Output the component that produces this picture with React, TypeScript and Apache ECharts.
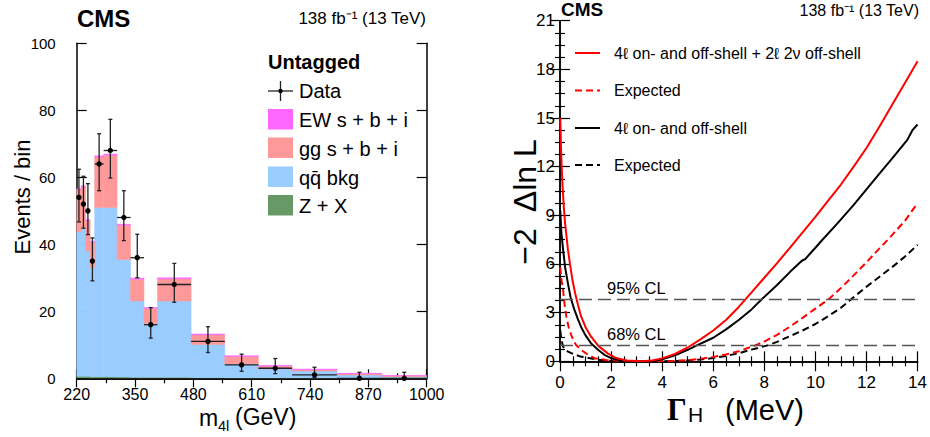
import React, { useEffect, useRef } from 'react';
import * as echarts from 'echarts';

// ---------------- Left panel: m4l distribution (Untagged) ----------------
const binEdges = [220, 230, 240, 250, 260, 280, 310, 340, 370, 400, 475, 550, 625, 700, 800, 900, 1000];
const zxValues = [0.6, 0.6, 0.6, 0.5, 0.5, 0.5, 0.4, 0.3, 0.3, 0.3, 0.2, 0.1, 0.1, 0.1, 0.05, 0.05];
const qqValues = [43.2, 44.2, 37.4, 32.5, 50.5, 50.5, 35.1, 22.8, 16.1, 22.8, 9.9, 4.2, 2.7, 2.1, 0.95, 0.45];
const ggValues = [12.5, 12.4, 9.1, 7.6, 15.1, 15.6, 10.2, 6.5, 4.5, 6.6, 2.9, 2.2, 0.85, 0.4, 0.42, 0.27];
const ewValues = [0.25, 0.25, 0.25, 0.25, 0.3, 0.3, 0.3, 0.3, 0.25, 0.3, 0.25, 0.25, 0.2, 0.15, 0.1, 0.05];
const dataCounts = [54, 52, 50, 35, 64, 68, 48, 36, 16, 28, 11, 4, 3, 1, 0, 0];
const dataErrUp = [8.4, 8.3, 8.1, 6.9, 9.0, 9.3, 8.0, 7.0, 5.1, 6.3, 4.4, 3.2, 2.9, 2.3, 1.8, 1.8];
const dataErrDown = [7.3, 7.2, 7.1, 5.9, 8.0, 8.2, 6.9, 6.0, 4.0, 5.3, 3.3, 1.9, 1.6, 0.8, 0, 0];

// ---------------- Right panel: -2 Delta lnL vs Gamma_H ----------------
const obsCombined = [
  [0.01, 15.0], [0.05, 12.6], [0.1, 10.8], [0.15, 9.5], [0.2, 8.5], [0.31, 6.9], [0.4, 5.9], [0.5, 4.9],
  [0.6, 4.15], [0.7, 3.5], [0.83, 2.75], [1.0, 2.1], [1.22, 1.52], [1.5, 0.95], [1.87, 0.49], [2.2, 0.2],
  [2.6, 0.05], [3.2, 0.0], [3.6, 0.05], [4.0, 0.18], [4.5, 0.45], [5.0, 0.85], [5.5, 1.35], [6.0, 1.9],
  [6.5, 2.55], [7.0, 3.35], [7.5, 4.25], [8.0, 5.15], [8.5, 6.05], [9.0, 7.0], [9.5, 7.95], [10.0, 8.9],
  [10.5, 9.9], [11.0, 10.9], [11.5, 12.0], [12.0, 13.15], [12.5, 14.45], [13.0, 15.8], [13.5, 17.15], [14.0, 18.5],
];
const expCombined = [
  [0.01, 5.8], [0.06, 5.0], [0.12, 4.4], [0.18, 3.5], [0.25, 2.75], [0.34, 2.1], [0.44, 1.62], [0.53, 1.28],
  [0.63, 1.0], [0.83, 0.7], [1.1, 0.4], [1.35, 0.19], [1.8, 0.08], [2.5, 0.02], [3.2, 0.0], [4.0, 0.0],
  [4.5, 0.02], [5.0, 0.07], [5.5, 0.15], [6.0, 0.27], [6.5, 0.42], [7.0, 0.62], [7.65, 0.98], [8.0, 1.22],
  [8.5, 1.63], [9.0, 2.13], [9.5, 2.68], [10.0, 3.25], [10.53, 3.84], [11.0, 4.52], [11.5, 5.3], [12.0, 6.1],
  [12.5, 6.95], [12.84, 7.5], [13.5, 8.65], [14.0, 9.75],
];
const obs4l = [
  [0.01, 9.3], [0.05, 8.0], [0.12, 6.9], [0.2, 5.8], [0.31, 4.8], [0.42, 3.9], [0.57, 3.15], [0.7, 2.6],
  [0.83, 2.1], [1.0, 1.6], [1.22, 1.1], [1.5, 0.7], [1.74, 0.4], [2.0, 0.2], [2.26, 0.08], [2.8, 0.01],
  [3.3, 0.0], [3.7, 0.04], [4.0, 0.12], [4.5, 0.37], [5.0, 0.71], [5.38, 1.0], [6.0, 1.45], [6.49, 1.95],
  [7.0, 2.55], [7.5, 3.2], [7.91, 3.84], [8.5, 4.7], [9.0, 5.5], [9.47, 6.2], [9.6, 6.3], [10.0, 7.0],
  [10.25, 7.45], [10.89, 8.55], [11.5, 9.65], [12.0, 10.6], [12.5, 11.55], [13.0, 12.5], [13.6, 13.65],
  [13.8, 14.25], [14.0, 14.6],
];
const exp4l = [
  [0.01, 1.9], [0.05, 1.4], [0.12, 0.9], [0.2, 0.75], [0.31, 0.6], [0.52, 0.45], [0.8, 0.3], [1.17, 0.19],
  [1.5, 0.1], [1.85, 0.04], [2.5, 0.01], [3.2, 0.0], [4.0, 0.0], [5.0, 0.05], [5.5, 0.11], [6.0, 0.2],
  [6.5, 0.33], [7.0, 0.5], [7.5, 0.72], [8.17, 1.0], [8.5, 1.2], [9.0, 1.55], [9.5, 1.9], [10.0, 2.3],
  [10.5, 2.78], [11.0, 3.3], [11.41, 3.84], [12.0, 4.6], [12.5, 5.2], [13.0, 5.8], [13.5, 6.45], [14.0, 7.18],
];
const clLevels = [3.84, 1.0];
const clLabels = ['95% CL', '68% CL'];

const FONT = 'Liberation Sans, Arial, Helvetica, sans-serif';
const SERIF = 'Liberation Serif, DejaVu Serif, serif';

const COLORS = {
  ew: '#ff66ff',
  gg: '#ff9999',
  qq: '#99ccff',
  zx: '#669966',
};

function buildLayer(values: number[], below: number[][]) {
  return values.map((v, i) => {
    const base = below.reduce((s, arr) => s + arr[i], 0);
    return [binEdges[i], binEdges[i + 1], base, base + v];
  });
}

const stackRender = (color: string) => (params: any, api: any) => {
  const p0 = api.coord([api.value(0), api.value(2)]);
  const p1 = api.coord([api.value(1), api.value(3)]);
  return {
    type: 'rect',
    shape: { x: p0[0], y: p1[1], width: p1[0] - p0[0], height: p0[1] - p1[1] },
    style: { fill: color, stroke: color, lineWidth: 0.5 },
  };
};

const errRender = (params: any, api: any) => {
  const xc = api.value(0);
  const x0 = api.value(1);
  const x1 = api.value(2);
  const y = api.value(3);
  const lo = api.value(4);
  const hi = api.value(5);
  const c = api.coord([xc, y]);
  const l = api.coord([x0, y]);
  const r = api.coord([x1, y]);
  const t = api.coord([xc, hi]);
  const b = api.coord([xc, lo]);
  const st = { stroke: '#222', lineWidth: 1.3 };
  const children: any[] = [
    { type: 'line', shape: { x1: l[0], y1: c[1], x2: r[0], y2: c[1] }, style: st },
    { type: 'line', shape: { x1: c[0], y1: t[1], x2: c[0], y2: b[1] }, style: st },
    { type: 'line', shape: { x1: c[0] - 2, y1: t[1], x2: c[0] + 2, y2: t[1] }, style: st },
    { type: 'circle', shape: { cx: c[0], cy: c[1], r: 2.7 }, style: { fill: '#000' } },
  ];
  if (hi - y > 0 && y - lo > 0) {
    children.push({ type: 'line', shape: { x1: c[0] - 2, y1: b[1], x2: c[0] + 2, y2: b[1] }, style: st });
  }
  return { type: 'group', children };
};

function buildOption() {
  const zxLayer = buildLayer(zxValues, []);
  const qqLayer = buildLayer(qqValues, [zxValues]);
  const ggLayer = buildLayer(ggValues, [zxValues, qqValues]);
  const ewLayer = buildLayer(ewValues, [zxValues, qqValues, ggValues]);
  const dataPts = dataCounts.map((n, i) => [
    (binEdges[i] + binEdges[i + 1]) / 2,
    binEdges[i],
    binEdges[i + 1],
    n,
    n - dataErrDown[i],
    n + dataErrUp[i],
  ]);

  const axisLine = { show: true, lineStyle: { color: '#000', width: 1.5 } };
  const tickStyle = { color: '#000', width: 1.2 };
  const lbl = { color: '#000', fontFamily: FONT, formatter: (v: number) => String(v) };

  const xLeftBase = {
    type: 'value', gridIndex: 0, min: 220, max: 1000, interval: 130,
    axisLine, splitLine: { show: false },
    axisTick: { inside: true, length: 9, lineStyle: tickStyle },
    minorTick: { show: true, splitNumber: 2, length: 5, lineStyle: tickStyle },
  };
  const yLeftBase = {
    type: 'value', gridIndex: 0, min: 0, max: 100, interval: 20,
    axisLine, splitLine: { show: false },
    axisTick: { inside: true, length: 10, lineStyle: tickStyle },
  };
  const xRightBase = {
    type: 'value', gridIndex: 1, min: 0, max: 14, interval: 2,
    axisLine, splitLine: { show: false },
    axisTick: { inside: true, length: 10, lineStyle: tickStyle },
    minorTick: { show: true, splitNumber: 4, length: 5, lineStyle: tickStyle },
  };
  const yRightBase = {
    type: 'value', gridIndex: 1, min: 0, max: 21, interval: 3,
    axisLine, splitLine: { show: false },
    axisTick: { inside: true, length: 10, lineStyle: tickStyle },
    minorTick: { show: true, splitNumber: 4, length: 5, lineStyle: tickStyle },
  };

  const legendBoxes = [
    { text: 'EW s + b + i', color: COLORS.ew, y: 109 },
    { text: 'gg s + b + i', color: COLORS.gg, y: 137.5 },
    { text: 'q\u0071\u0304 bkg', color: COLORS.qq, y: 166.5 },
    { text: 'Z + X', color: COLORS.zx, y: 195 },
  ];
  const rightLegend = [
    { text: '4\u2113 on- and off-shell + 2\u2113 2\u03bd off-shell', color: '#ff0000', dashed: false, y: 53 },
    { text: 'Expected', color: '#ff0000', dashed: true, y: 90.5 },
    { text: '4\u2113 on- and off-shell', color: '#000000', dashed: false, y: 128 },
    { text: 'Expected', color: '#000000', dashed: true, y: 165 },
  ];

  const txt = (text: string, x: number, y: number, size: number, opts: any = {}) => ({
    type: 'text',
    x,
    y,
    rotation: opts.rotation || 0,
    style: {
      text,
      fill: '#000',
      fontSize: size,
      fontFamily: opts.family || FONT,
      fontWeight: opts.weight || 'normal',
      textAlign: opts.align || 'left',
      textVerticalAlign: 'middle',
      align: opts.align || 'left',
      verticalAlign: 'middle',
    },
  });

  const graphic: any[] = [
    // left headers
    txt('CMS', 77, 18, 24, { weight: 'bold' }),
    txt('138 fb\u207b\u00b9 (13 TeV)', 426, 18, 17, { align: 'right' }),
    // left axis titles
    txt('Events / bin', 22, 197, 22, { rotation: Math.PI / 2, align: 'center' }),
    txt('m', 199, 418, 23),
    txt('4l', 218, 426, 14.5),
    txt('(GeV)', 235, 417, 23),
    // left legend
    txt('Untagged', 268, 62, 20, { weight: 'bold' }),
    { type: 'line', shape: { x1: 268, y1: 91, x2: 293, y2: 91 }, style: { stroke: '#222', lineWidth: 1.3 } },
    { type: 'line', shape: { x1: 280.5, y1: 81, x2: 280.5, y2: 101 }, style: { stroke: '#222', lineWidth: 1.3 } },
    { type: 'circle', shape: { cx: 280.5, cy: 91, r: 2.2 }, style: { fill: '#000' } },
    txt('Data', 299, 91, 20),
    ...legendBoxes.flatMap((b) => [
      { type: 'rect', shape: { x: 268, y: b.y, width: 25, height: 20.5 }, style: { fill: b.color } },
      txt(b.text, 299, b.y + 11, 20),
    ]),
    // right headers
    txt('CMS', 561, 9, 19, { weight: 'bold' }),
    txt('138 fb\u207b\u00b9 (13 TeV)', 919, 10, 16, { align: 'right' }),
    // right axis titles
    txt('\u22122  \u0394ln L', 525, 202, 32, { rotation: Math.PI / 2, align: 'center' }),
    txt('\u0393', 667, 409, 31, { family: SERIF, weight: 'bold' }),
    txt('H', 688, 414, 21),
    txt('(MeV)', 725, 410, 29),
    // right legend
    ...rightLegend.flatMap((e) => [
      {
        type: 'line',
        shape: { x1: 575, y1: e.y, x2: 600, y2: e.y },
        style: { stroke: e.color, lineWidth: 2, lineDash: e.dashed ? [7, 4] : null },
      },
      txt(e.text, 614, e.y, 16),
    ]),
  ];

  const series: any[] = [
    { layer: zxLayer, color: COLORS.zx },
    { layer: qqLayer, color: COLORS.qq },
    { layer: ggLayer, color: COLORS.gg },
    { layer: ewLayer, color: COLORS.ew },
  ].map((s) => ({
    type: 'custom',
    xAxisIndex: 0,
    yAxisIndex: 0,
    renderItem: stackRender(s.color),
    data: s.layer,
    encode: { x: [0, 1], y: [2, 3] },
    clip: true,
    silent: true,
  }));

  series.push({
    type: 'custom',
    xAxisIndex: 0,
    yAxisIndex: 0,
    renderItem: errRender,
    data: dataPts,
    encode: { x: [0, 1, 2], y: [3, 4, 5] },
    clip: false,
    silent: true,
    z: 5,
  });

  const curve = (data: number[][], color: string, dashed: boolean, extra: any = {}) => ({
    type: 'line',
    xAxisIndex: 2,
    yAxisIndex: 2,
    data,
    showSymbol: false,
    smooth: false,
    clip: true,
    silent: true,
    lineStyle: { color, width: 2, type: dashed ? [7, 4] : 'solid', join: 'round' },
    z: 3,
    ...extra,
  });

  series.push(
    curve(exp4l, '#000', true, {
      markLine: {
        symbol: 'none',
        silent: true,
        label: { show: false },
        lineStyle: { color: '#555', width: 1.4, type: [13, 6] },
        data: clLevels.map((v) => ({ yAxis: v })),
      },
    }),
    curve(expCombined, '#ff0000', true),
    curve(obs4l, '#000', false),
    curve(obsCombined, '#ff0000', false),
  );

  clLevels.forEach((v, i) => {
    const t: any = txt(clLabels[i], 607, 0, 16.5, {});
    t.__cl = v;
    graphic.push(t);
  });

  return {
    animation: false,
    backgroundColor: '#fff',
    grid: [
      { left: 76.7, right: 503.3, top: 43.3, bottom: 58.7 },
      { left: 560, right: 10, top: 20.7, bottom: 75.7 },
    ],
    xAxis: [
      { ...xLeftBase, position: 'bottom', axisLabel: { ...lbl, fontSize: 16, margin: 8 } },
      { ...xLeftBase, position: 'top', axisLabel: { show: false } },
      { ...xRightBase, position: 'bottom', axisLabel: { ...lbl, fontSize: 17, margin: 13 } },
      { ...xRightBase, position: 'top', axisLabel: { show: false } },
    ],
    yAxis: [
      { ...yLeftBase, position: 'left', axisLabel: { ...lbl, fontSize: 15, margin: 21 } },
      { ...yLeftBase, position: 'right', axisLabel: { show: false } },
      { ...yRightBase, position: 'left', axisLabel: { ...lbl, fontSize: 17, margin: 5 } },
      { ...yRightBase, position: 'right', axisLabel: { show: false } },
    ],
    series,
    graphic,
  };
}

export default function App() {
  const ref = useRef<HTMLDivElement>(null);
  useEffect(() => {
    const chart = echarts.init(ref.current!, null, { renderer: 'svg' });
    const option: any = buildOption();
    const clIdx: number[] = [];
    option.graphic.forEach((g: any, i: number) => { if (g.__cl !== undefined) clIdx.push(i); });
    chart.setOption(option);
    // place the CL labels using the right panel's y scale
    clIdx.forEach((i) => {
      const g = option.graphic[i];
      const p = chart.convertToPixel({ xAxisIndex: 2, yAxisIndex: 2 } as any, [0, g.__cl]) as number[];
      g.y = p[1] - 11;
      delete g.__cl;
    });
    chart.setOption({ graphic: option.graphic });
    return () => chart.dispose();
  }, []);
  return <div ref={ref} style={{ position: 'fixed', left: 0, top: 0, width: 930, height: 437 }} />;
}
